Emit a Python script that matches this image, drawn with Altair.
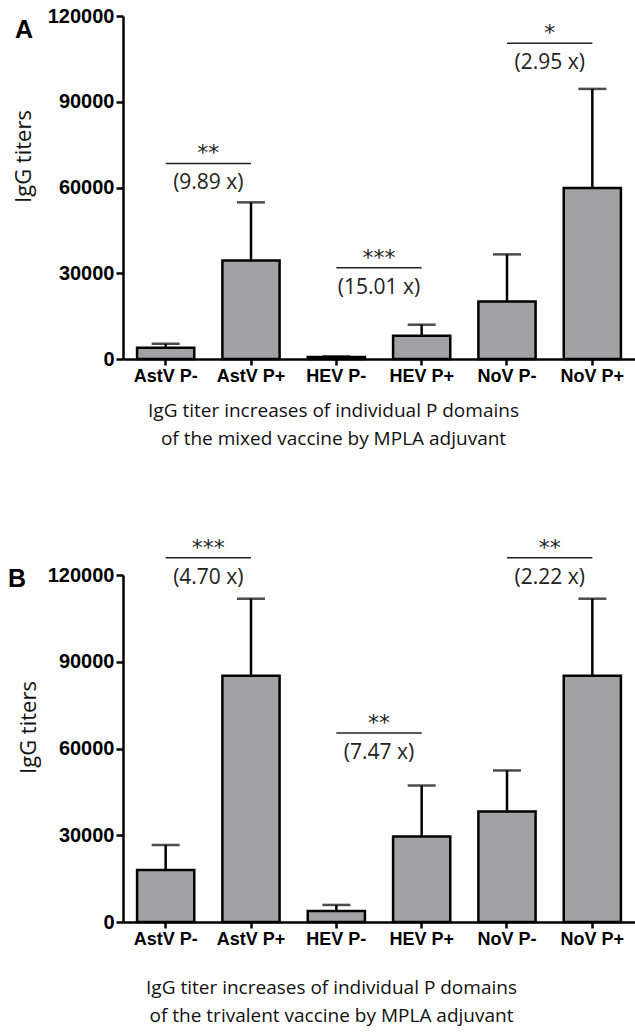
import altair as alt
import pandas as pd

cats = ["AstV P-", "AstV P+", "HEV P-", "HEV P+", "NoV P-", "NoV P+"]

# Panel A (mixed vaccine)
a_mean = [3900, 34500, 700, 8100, 20100, 59800]
a_err = [5300, 54800, 900, 12000, 36600, 94500]
# Panel B (trivalent vaccine)
b_mean = [18000, 85200, 3800, 29600, 38200, 85200]
b_err = [26600, 111800, 5900, 47200, 52400, 111800]

pair_first = ["AstV P-", "HEV P-", "NoV P-"]
pair_second = ["AstV P+", "HEV P+", "NoV P+"]
a_line = [68400, 31900, 110500]
a_stars = ["**", "***", "*"]
a_ratio = ["(9.89 x)", "(15.01 x)", "(2.95 x)"]
b_line = [126000, 65400, 126000]
b_stars = ["***", "**", "**"]
b_ratio = ["(4.70 x)", "(7.47 x)", "(2.22 x)"]

y_ticks = [0, 30000, 60000, 90000, 120000]

cap_a = ["IgG titer increases of individual P domains",
         "of the mixed vaccine by MPLA adjuvant"]
cap_b = ["IgG titer increases of individual P domains",
         "of the trivalent vaccine by MPLA adjuvant"]

GRAY = "#a2a2a6"
LW = 2.5
TXT_FONT = "Open Sans"


def panel(mean, err, line, stars, ratio, letter, caption, w, h,
          ytx, yty, xtx, xty, lx, ly):
    df = pd.DataFrame({"cat": cats, "mean": mean, "err": err})
    ann = pd.DataFrame({"c1": pair_first, "c2": pair_second, "line": line,
                        "star": stars, "ratio": ratio})
    step = w / 6.0
    xscale = alt.Scale(domain=cats, paddingInner=0.33, paddingOuter=0.165)
    yscale = alt.Scale(domain=[0, 120000], nice=False)
    xaxis = alt.Axis(
        labelAngle=0, labelFont="Liberation Sans", labelFontWeight="bold",
        labelFontSize=18, labelColor="black", labelPadding=2,
        tickSize=6, tickWidth=LW, tickColor="black",
        domainWidth=LW, domainColor="black", grid=False,
        title=caption, titleFont=TXT_FONT, titleFontWeight="normal",
        titleFontSize=19, titleColor="#111111", titleX=xtx, titleY=xty,
        titleAlign="center", titleBaseline="middle", titleLineHeight=28,
    )
    yaxis = alt.Axis(
        values=y_ticks, format="d", labelFont="Liberation Sans",
        labelFontWeight="bold", labelFontSize=20, labelColor="black",
        labelPadding=2, tickSize=7, tickWidth=LW, tickColor="black",
        domainWidth=LW, domainColor="black", grid=False,
        title="IgG titers", titleFont=TXT_FONT, titleFontWeight="normal",
        titleFontSize=22, titleColor="#111111", titleX=ytx, titleY=yty,
        titleAlign="center", titleBaseline="middle",
    )
    base = alt.Chart(df)
    x = alt.X("cat:N", sort=cats, scale=xscale, axis=xaxis)
    errline = base.mark_rule(color="black", strokeWidth=LW).encode(
        x=x, y=alt.Y("mean:Q", scale=yscale, axis=yaxis), y2="err:Q")
    caps = base.mark_tick(color="black", size=28, thickness=LW).encode(
        x=x, y=alt.Y("err:Q", scale=yscale))
    bars = base.mark_bar(fill=GRAY, stroke="black", strokeWidth=LW).encode(
        x=x, y=alt.Y("mean:Q", scale=yscale))
    abase = alt.Chart(ann)
    arule = abase.mark_rule(color="#222222", strokeWidth=1.5).encode(
        x=alt.X("c1:N", sort=cats, scale=xscale, bandPosition=0.5),
        x2=alt.X2("c2:N", bandPosition=0.5),
        y=alt.Y("line:Q", scale=yscale))
    astar = abase.mark_text(font="DejaVu Sans", fontSize=22, color="#222222",
                            dx=step / 2, dy=-10).encode(
        x=alt.X("c1:N", sort=cats, scale=xscale),
        y=alt.Y("line:Q", scale=yscale), text="star:N")
    aratio = abase.mark_text(font=TXT_FONT, fontSize=21, color="#222222",
                             dx=step / 2, dy=20).encode(
        x=alt.X("c1:N", sort=cats, scale=xscale),
        y=alt.Y("line:Q", scale=yscale), text="ratio:N")
    let = alt.Chart(pd.DataFrame({"t": [letter]})).mark_text(
        font="Liberation Sans", fontWeight="bold", fontSize=25,
        color="black").encode(x=alt.value(lx), y=alt.value(ly), text="t:N")
    return alt.layer(errline, caps, bars, arule, astar, aratio, let).properties(
        width=w, height=h)


pa = panel(a_mean, a_err, a_line, a_stars, a_ratio, "A", cap_a, 512, 343,
           -99.5, 140, 210, 51, -99, 14)
pb = panel(b_mean, b_err, b_line, b_stars, b_ratio, "B", cap_b, 512, 347,
           -94.5, 152, 208, 65, -106, 4)

chart = alt.vconcat(pa, pb, spacing=216, bounds="flush").properties(
    padding={"left": 7, "top": 6, "right": 0, "bottom": 18}
).configure_view(strokeWidth=0)

chart.save("out.html", embed_options={"renderer": "svg", "actions": False})
